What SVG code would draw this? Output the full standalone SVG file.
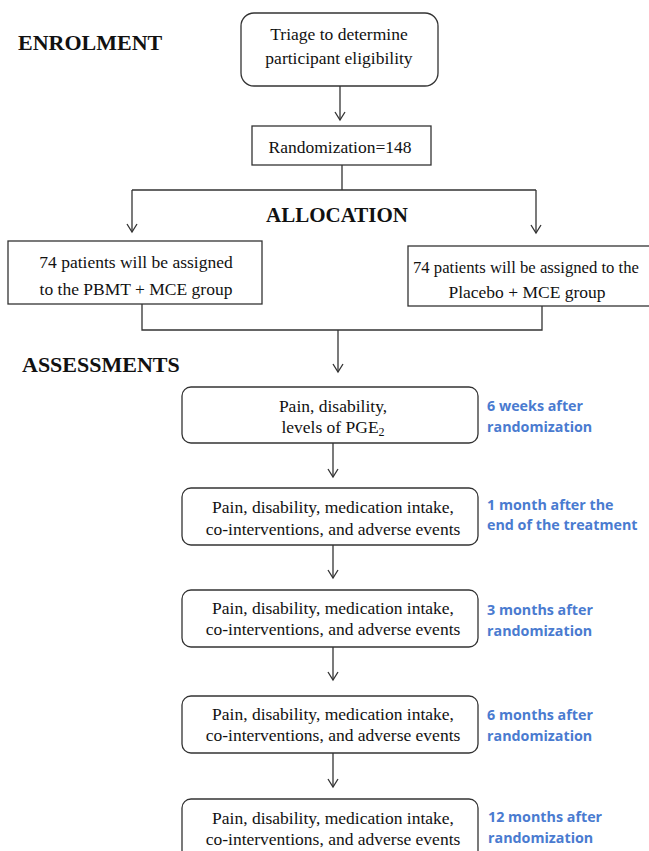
<svg xmlns="http://www.w3.org/2000/svg" width="649" height="851" viewBox="0 0 649 851">
<style>
.box{fill:#fff;stroke:#333;stroke-width:1.3}
.t{font-family:"Liberation Serif","Times New Roman",serif;font-size:17.5px;fill:#111;text-anchor:middle}
.h{font-family:"Liberation Serif","Times New Roman",serif;font-size:22px;font-weight:bold;fill:#111}
.b{font-family:"Open Sans","Noto Sans",sans-serif;font-size:14.3px;font-weight:bold;fill:#4a7bd0}
.c{fill:none;stroke:#333;stroke-width:1.3}
</style>
<defs>
<marker id="ar" markerWidth="12" markerHeight="12" refX="10" refY="6" orient="auto" markerUnits="userSpaceOnUse" viewBox="0 0 12 12">
<path d="M2,1 L10,6 L2,11" fill="none" stroke="#333" stroke-width="1.3"/>
</marker>
</defs>
<rect width="649" height="851" fill="#fff"/>
<text class="h" x="18" y="50">ENROLMENT</text>
<text class="h" x="266" y="222" style="font-size:21px">ALLOCATION</text>
<text class="h" x="22" y="372">ASSESSMENTS</text>
<g id="connectors">
<path class="c" d="M340,86 V120" marker-end="url(#ar)"/>
<path class="c" d="M342,165 V190 M132,190 H536"/>
<path class="c" d="M132,190 V232" marker-end="url(#ar)"/>
<path class="c" d="M536,190 V233" marker-end="url(#ar)"/>
<path class="c" d="M142,304 V330 H542 V306"/>
<path class="c" d="M338,330 V372" marker-end="url(#ar)"/>
<path class="c" d="M333,443 V477" marker-end="url(#ar)"/>
<path class="c" d="M333,545 V578" marker-end="url(#ar)"/>
<path class="c" d="M333,647 V680" marker-end="url(#ar)"/>
<path class="c" d="M333,753 V787" marker-end="url(#ar)"/>
</g>
<g id="triage">
<rect class="box" x="241" y="13" width="197" height="73" rx="13"/>
<text class="t" x="339" y="40">Triage to determine</text>
<text class="t" x="339" y="64">participant eligibility</text>
</g>
<g id="randomization">
<rect class="box" x="252" y="126" width="179" height="39"/>
<text class="t" x="340" y="153">Randomization=148</text>
</g>
<g id="pbmt">
<rect class="box" x="8" y="241" width="254" height="63"/>
<text class="t" x="136" y="268">74 patients will be assigned</text>
<text class="t" x="136" y="295">to the PBMT + MCE group</text>
</g>
<g id="placebo">
<rect class="box" x="408" y="246" width="250" height="60"/>
<text class="t" x="413" y="273" style="text-anchor:start" textLength="226" lengthAdjust="spacingAndGlyphs">74 patients will be assigned to the</text>
<text class="t" x="527" y="298">Placebo + MCE group</text>
</g>
<g id="a1">
<rect class="box" x="182" y="387" width="296" height="56" rx="9"/>
<text class="t" x="333" y="412">Pain, disability,</text>
<text class="t" x="333" y="433">levels of PGE<tspan font-size="12" dy="3">2</tspan></text>
<text class="b" x="487" y="411">6 weeks after</text>
<text class="b" x="487" y="432">randomization</text>
</g>
<g id="a2">
<rect class="box" x="182" y="488" width="296" height="57" rx="9"/>
<text class="t" x="333" y="513">Pain, disability, medication intake,</text>
<text class="t" x="333" y="535">co-interventions, and adverse events</text>
<text class="b" x="487" y="510">1 month after the</text>
<text class="b" x="487" y="530">end of the treatment</text>
</g>
<g id="a3">
<rect class="box" x="182" y="590" width="296" height="57" rx="9"/>
<text class="t" x="333" y="614">Pain, disability, medication intake,</text>
<text class="t" x="333" y="635">co-interventions, and adverse events</text>
<text class="b" x="487" y="615">3 months after</text>
<text class="b" x="487" y="636">randomization</text>
</g>
<g id="a4">
<rect class="box" x="182" y="696" width="296" height="57" rx="9"/>
<text class="t" x="333" y="720">Pain, disability, medication intake,</text>
<text class="t" x="333" y="741">co-interventions, and adverse events</text>
<text class="b" x="487" y="720">6 months after</text>
<text class="b" x="487" y="741">randomization</text>
</g>
<g id="a5">
<rect class="box" x="182" y="799" width="296" height="70" rx="9"/>
<text class="t" x="333" y="824">Pain, disability, medication intake,</text>
<text class="t" x="333" y="845">co-interventions, and adverse events</text>
<text class="b" x="488" y="822">12 months after</text>
<text class="b" x="488" y="843">randomization</text>
</g>
</svg>
